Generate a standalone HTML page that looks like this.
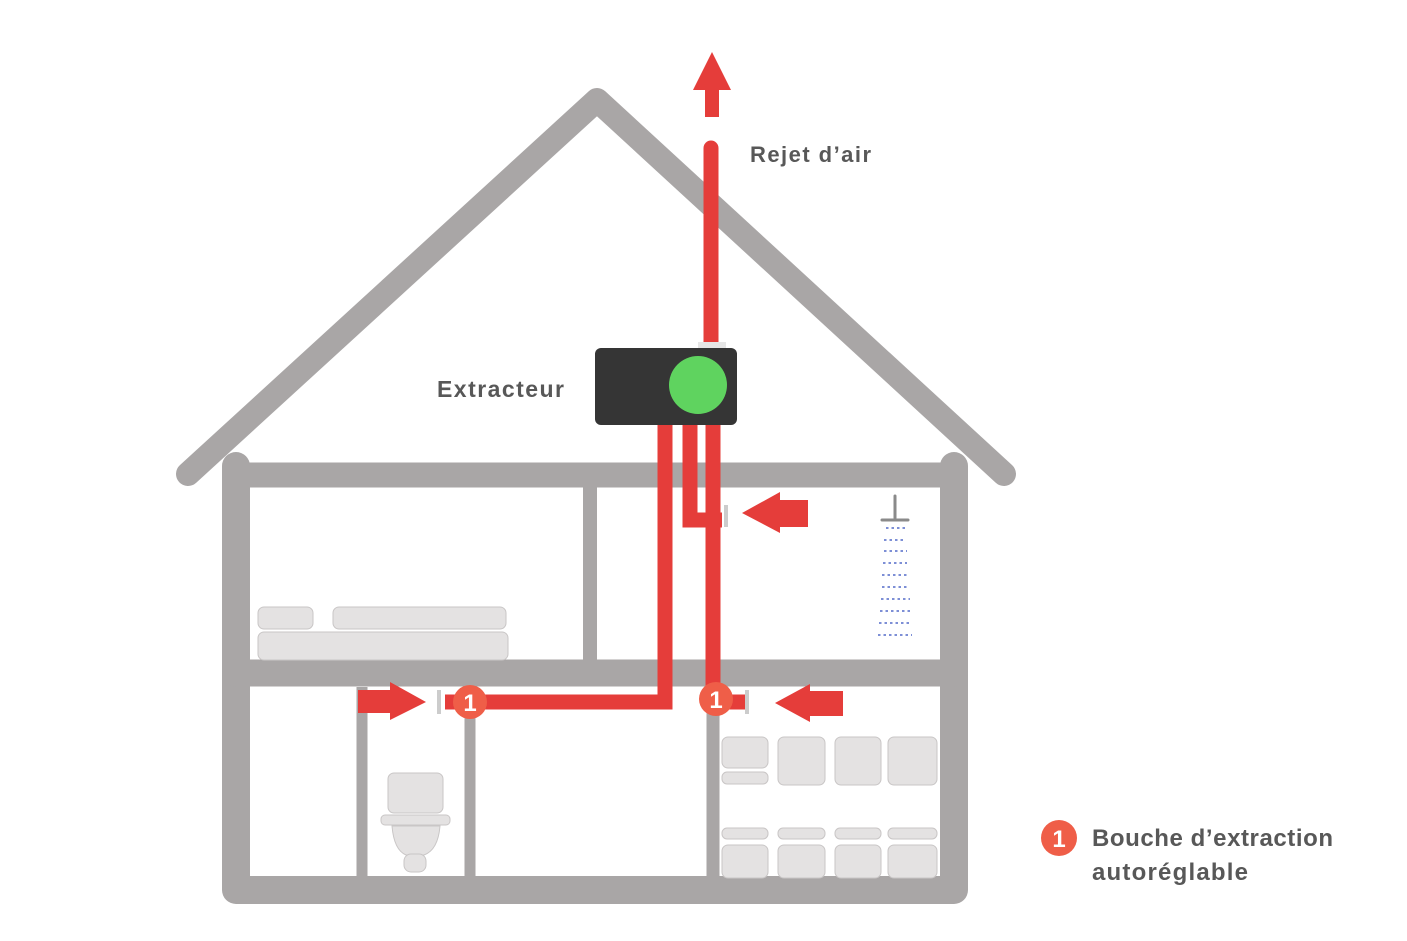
<!DOCTYPE html>
<html><head><meta charset="utf-8"><style>
html,body{margin:0;padding:0;background:#fff;}
svg{display:block;}
text{font-family:"Liberation Sans",sans-serif;font-weight:bold;fill:#585858;}
</style></head><body>
<svg width="1407" height="941" viewBox="0 0 1407 941" xmlns="http://www.w3.org/2000/svg">
<g stroke="#a9a6a6" stroke-linecap="round" stroke-linejoin="round" fill="none">
  <!-- roof -->
  <polyline points="188,474 597,100 1004,474" stroke-width="24"/>
  <!-- outer walls and floors -->
  <path d="M236,466 V890 H954 V466" stroke-width="28"/>
  <line x1="236" y1="475" x2="954" y2="475" stroke-width="25"/>
  <line x1="236" y1="673" x2="954" y2="673" stroke-width="27"/>
  <!-- partitions -->
  <line x1="590" y1="487" x2="590" y2="660" stroke-width="14" stroke-linecap="butt"/>
  <line x1="362" y1="687" x2="362" y2="877" stroke-width="11" stroke-linecap="butt"/>
  <line x1="470" y1="687" x2="470" y2="877" stroke-width="11" stroke-linecap="butt"/>
  <line x1="713" y1="687" x2="713" y2="877" stroke-width="13" stroke-linecap="butt"/>
</g>
<!-- bed -->
<g fill="#e4e2e2" stroke="#c9c6c6" stroke-width="1">
  <rect x="258" y="607" width="55" height="22" rx="6"/>
  <rect x="333" y="607" width="173" height="22" rx="6"/>
  <rect x="258" y="632" width="250" height="28" rx="6"/>
  <!-- toilet -->
  <rect x="388" y="773" width="55" height="40" rx="6"/>
  <rect x="381" y="815" width="69" height="10" rx="4"/>
  <path d="M392,826 H440 Q438,850 424,855 H406 Q394,850 392,826 Z"/>
  <rect x="404" y="854" width="22" height="18" rx="7"/>
  <!-- kitchen -->
  <rect x="722" y="737" width="46" height="31" rx="6"/>
  <rect x="722" y="772" width="46" height="12" rx="5"/>
  <rect x="778" y="737" width="47" height="48" rx="6"/>
  <rect x="835" y="737" width="46" height="48" rx="6"/>
  <rect x="888" y="737" width="49" height="48" rx="6"/>
  <rect x="722" y="828" width="46" height="11" rx="5"/>
  <rect x="778" y="828" width="47" height="11" rx="5"/>
  <rect x="835" y="828" width="46" height="11" rx="5"/>
  <rect x="888" y="828" width="49" height="11" rx="5"/>
  <rect x="722" y="845" width="46" height="33" rx="6"/>
  <rect x="778" y="845" width="47" height="33" rx="6"/>
  <rect x="835" y="845" width="46" height="33" rx="6"/>
  <rect x="888" y="845" width="49" height="33" rx="6"/>
</g>
<!-- shower -->
<g stroke="#8a8a8a" stroke-width="3" stroke-linecap="round">
  <line x1="895" y1="496" x2="895" y2="518"/>
  <line x1="882" y1="520" x2="908" y2="520"/>
</g>
<g stroke="#7d8fd6" stroke-width="2" stroke-dasharray="2.5 3">
  <line x1="886" y1="528" x2="905" y2="528"/>
  <line x1="884" y1="540" x2="906" y2="540"/>
  <line x1="884" y1="551" x2="907" y2="551"/>
  <line x1="883" y1="563" x2="907" y2="563"/>
  <line x1="882" y1="575" x2="908" y2="575"/>
  <line x1="882" y1="587" x2="909" y2="587"/>
  <line x1="881" y1="599" x2="910" y2="599"/>
  <line x1="880" y1="611" x2="910" y2="611"/>
  <line x1="879" y1="623" x2="911" y2="623"/>
  <line x1="878" y1="635" x2="912" y2="635"/>
</g>
<!-- red pipes -->
<g stroke="#e53d3a" fill="none" stroke-width="15">
  <line x1="711" y1="148" x2="711" y2="350" stroke-linecap="round"/>
  <path d="M665,425 V702 H445"/>
  <path d="M690,425 V520 H722"/>
  <path d="M713,425 V702 H745"/>
</g>
<!-- top arrow -->
<polygon points="712,52 731,90 719,90 719,117 705,117 705,90 693,90" fill="#e53d3a"/>
<!-- grille stubs -->
<rect x="724" y="505" width="4" height="22" fill="#ccc"/>
<rect x="745" y="690" width="4" height="24" fill="#ccc"/>
<rect x="437" y="690" width="4" height="24" fill="#ccc"/>
<!-- side arrows -->
<g fill="#e53d3a">
  <polygon points="742,513 780,492 780,500 808,500 808,527 780,527 780,533"/>
  <polygon points="775,703 810,684 810,691 843,691 843,716 810,716 810,722"/>
  <polygon points="426,702 390,682 390,690 358,690 358,713 390,713 390,720"/>
</g>
<!-- extractor -->
<rect x="698" y="342" width="28" height="8" fill="#e6e6e6"/>
<rect x="595" y="348" width="142" height="77" rx="6" fill="#353535"/>
<circle cx="698" cy="385" r="29" fill="#5fd35f"/>
<!-- badges -->
<g>
  <circle cx="470" cy="702" r="17" fill="#ef5e48"/>
  <text x="470" y="711" text-anchor="middle" font-size="24" style="fill:#fff">1</text>
  <circle cx="716" cy="699" r="17" fill="#ef5e48"/>
  <text x="716" y="708" text-anchor="middle" font-size="24" style="fill:#fff">1</text>
  <circle cx="1059" cy="838" r="18" fill="#ef5e48"/>
  <text x="1059" y="847" text-anchor="middle" font-size="24" style="fill:#fff">1</text>
</g>
<!-- labels -->
<text x="750" y="162" font-size="22" textLength="121">Rejet d’air</text>
<text x="437" y="397" font-size="23" textLength="127">Extracteur</text>
<text x="1092" y="846" font-size="24" textLength="241">Bouche d’extraction</text>
<text x="1092" y="880" font-size="24" textLength="156">autoréglable</text>
</svg>
</body></html>
